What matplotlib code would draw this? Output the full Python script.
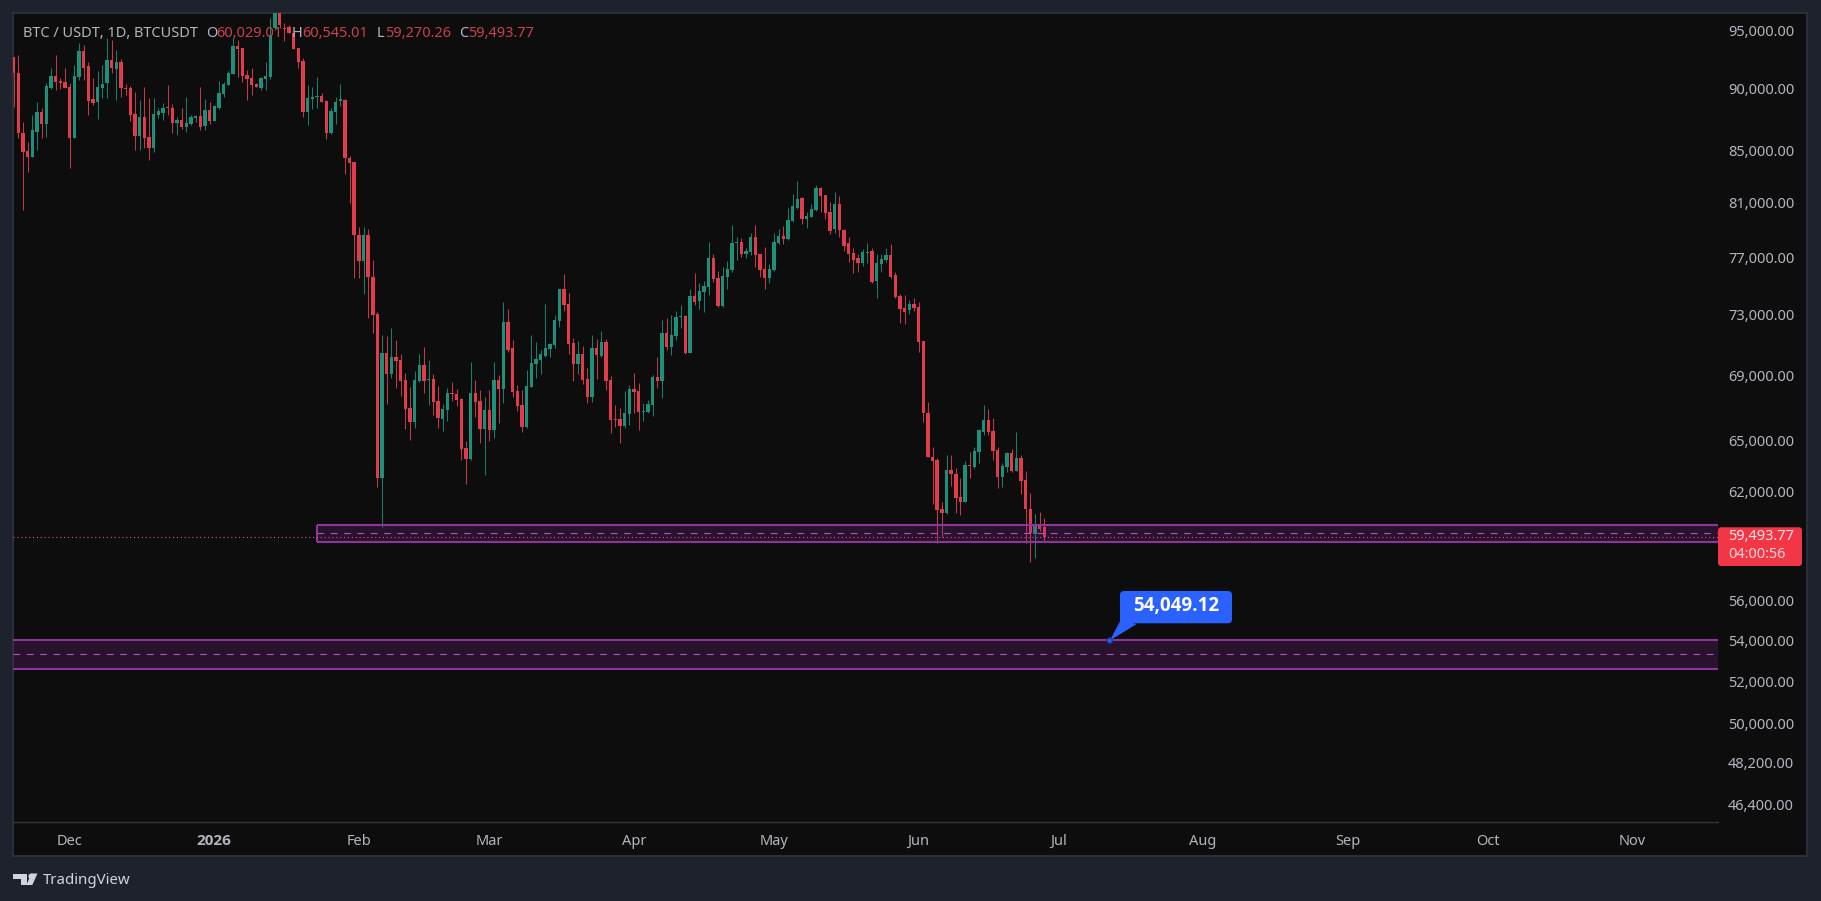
"""Daily BTC/USDT candlestick chart with two support zones, dark TradingView style."""
import matplotlib
matplotlib.use("Agg")
import matplotlib.pyplot as plt
import matplotlib.dates as mdates
import pandas as pd
from matplotlib.patches import Circle, FancyBboxPatch, Polygon, Rectangle
from matplotlib.ticker import NullLocator
from matplotlib.transforms import Affine2D, IdentityTransform

plt.rcParams["font.family"] = ["Noto Sans", "DejaVu Sans"]

WIDTH, HEIGHT = 1821, 901

first_day = "2025-11-19"

opens = [
    92810, 91390, 86450, 85075, 84600, 86585, 88200, 87200, 90130, 91165,
    90745, 90635, 90210, 86105, 91050, 93330, 92010, 89215, 89025, 90130,
    90550, 92525, 91760, 92380, 90130, 90130, 88010, 86240, 87795, 86130,
    85310, 87930, 88120, 88555, 88530, 87255, 87524, 86985, 87200, 87660,
    87850, 87040, 88338, 87470, 88475, 89660, 90410, 91335, 93740, 93540,
    91250, 90970, 90490, 90130, 90885, 91050, 95281, 96700, 95310, 95430,
    94840, 93540, 92440, 88145, 89215, 89380, 89490, 89105, 86450, 88200,
    89105, 89160, 84470, 84160, 78680, 76810, 78680, 75655, 73135, 62845,
    70560, 69180, 70255, 70081, 68795, 67012, 66150, 68730, 69755, 68815,
    68840, 67470, 66355, 66909, 67950, 67905, 67595, 64575, 63920, 67950,
    67470, 65740, 66909, 65682, 68795, 68225, 72610, 70840, 68120, 67220,
    65885, 68370, 69820, 70081, 70360, 70800, 71060, 72680, 74840, 73790,
    71170, 69820, 70470, 68840, 67700, 70840, 70360, 71235, 68795, 66335,
    66355, 65945, 66660, 68225, 68100, 66785, 66805, 67220, 69010, 68755,
    71835, 70955, 71655, 72905, 73020, 70560, 74355, 74015, 74610, 75000,
    77045, 75585, 73675, 75700, 76172, 78080, 78150, 77285, 77430, 78510,
    77285, 76220, 75585, 76172, 78080, 78610, 78365, 79710, 80650, 81400,
    79830, 80025, 80525, 82155, 81650, 80400, 79095, 80975, 79047, 78080,
    77360, 77000, 76640, 77360, 77525, 75425, 76595, 76881, 77240, 75820,
    74385, 73515, 73402, 73810, 73630, 71325, 66700, 64080, 63882, 61030,
    60805, 63293, 63060, 61710, 61465, 63585, 63490, 64375, 65580, 66293,
    65620, 64476, 62860, 63490, 64280, 63255, 63985, 62709, 61030, 59650,
    60095, 60029.01,
]
highs = [
    92810, 92955, 87390, 85785, 87930, 89025, 88475, 90550, 91815, 92955,
    90970, 91815, 90550, 92100, 93970, 93830, 92380, 90970, 91590, 92100,
    94400, 94255, 93386, 92580, 90465, 90325, 89850, 89160, 90210, 89300,
    89300, 88475, 88885, 90410, 88830, 87795, 88475, 89380, 87930, 87930,
    90210, 89215, 89025, 88750, 90770, 90690, 91615, 94400, 94255, 93540,
    91672, 91870, 90605, 91110, 92330, 96160, 97200, 97000, 95720, 95575,
    94985, 93540, 92670, 90410, 90270, 91050, 89770, 89160, 88475, 89435,
    90490, 89215, 84650, 84210, 79290, 79290, 79095, 76881, 73245, 71723,
    71655, 72165, 71391, 70450, 69220, 68330, 69390, 70470, 70910, 70081,
    69155, 68410, 67282, 68265, 68690, 68200, 67635, 65015, 69975, 68795,
    68160, 67740, 68160, 69975, 69110, 73925, 73447, 71391, 68475, 68160,
    69435, 71723, 71235, 70733, 73785, 71215, 73065, 74840, 75890, 74590,
    71500, 71325, 71015, 69540, 71723, 71435, 71990, 71435, 69055, 67220,
    67055, 68120, 68475, 69220, 68585, 67365, 67532, 69110, 70255, 72725,
    72840, 73065, 73335, 73745, 73065, 74815, 75935, 75285, 75425, 78200,
    77310, 76125, 76410, 76835, 79415, 78560, 78440, 77715, 78855, 79415,
    77285, 77785, 76595, 78805, 79095, 79340, 80650, 81700, 82740, 81525,
    80400, 80975, 82410, 82235, 81650, 81150, 81905, 81575, 79095, 78510,
    77715, 77310, 77645, 78080, 77765, 77310, 77310, 77765, 78030, 76055,
    74500, 74430, 74085, 74200, 73970, 71325, 67430, 64675, 63980, 61465,
    64180, 64180, 63430, 62805, 63825, 64340, 64675, 65725, 67220, 66950,
    66395, 64675, 63685, 64375, 64515, 65540, 64180, 63235, 61940, 60750,
    60900, 60545.01,
]
lows = [
    88610, 86055, 80525, 83435, 84600, 85126, 86055, 86185, 90045, 89990,
    90045, 90130, 83745, 86105, 90827, 90827, 87930, 88750, 87605, 89300,
    89300, 91445, 89160, 89380, 89575, 87470, 85126, 85126, 85260, 84341,
    84995, 87660, 87524, 87930, 86450, 86320, 86770, 86585, 87120, 87390,
    86717, 86717, 87200, 87470, 88395, 89380, 90410, 91335, 91110, 90690,
    89160, 89575, 90210, 89990, 89990, 90885, 95140, 95281, 94200, 94840,
    93475, 91815, 87795, 87120, 88395, 88475, 89025, 85975, 86395, 87200,
    88665, 83255, 81075, 75630, 75630, 74490, 72885, 71880, 62323, 60020,
    67282, 68900, 68265, 67780, 65740, 65076, 65780, 68690, 67950, 67220,
    66600, 65780, 65620, 66250, 67470, 67180, 63882, 62475, 63882, 66500,
    64915, 63000, 65035, 65175, 66130, 67325, 70625, 67740, 66870, 65580,
    65825, 68330, 68940, 69180, 70295, 70295, 70840, 72275, 73357, 70470,
    68755, 69180, 68545, 67365, 67430, 68840, 70295, 68160, 65520, 65885,
    64915, 65780, 65985, 66700, 65682, 66230, 66700, 66560, 68265, 67635,
    70733, 70405, 71391, 72165, 70470, 70515, 73745, 73470, 73290, 74430,
    75355, 73630, 73630, 74820, 76055, 76881, 77120, 77045, 77240, 76405,
    75655, 74840, 75285, 76125, 78005, 78030, 78318, 79660, 80600, 79465,
    79170, 79975, 80475, 80400, 79830, 78755, 78805, 78560, 77550, 76715,
    75940, 76055, 76455, 76640, 75240, 74200, 76055, 76760, 75630, 74200,
    72550, 72460, 73135, 73355, 70625, 66190, 64040, 61330, 59140, 59465,
    60770, 62360, 60805, 60710, 61425, 62805, 63390, 63685, 65380, 65380,
    63882, 62260, 62285, 63195, 63195, 63235, 61900, 59140, 58140, 58360,
    59835, 59270.26,
]
closes = [
    91390, 86450, 84995, 84600, 86717, 88200, 87200, 90325, 91165, 90690,
    90605, 90185, 86105, 91165, 93330, 91815, 89105, 88885, 90210, 90490,
    92525, 91815, 92380, 90130, 90045, 87930, 86240, 87795, 86055, 85260,
    87985, 88255, 88530, 88475, 87310, 87524, 86930, 87255, 87795, 87850,
    86985, 88338, 87470, 88665, 89770, 90490, 91390, 93740, 93445, 91165,
    90885, 90380, 90210, 90970, 91165, 94690, 96612, 95573, 95195, 94900,
    93475, 92380, 88145, 89300, 89435, 89490, 89025, 86450, 88280, 89025,
    89215, 84470, 84135, 78680, 76835, 78680, 75655, 73065, 62845, 70560,
    69180, 70255, 70040, 68730, 66970, 66190, 68795, 69755, 68755, 68860,
    67385, 66395, 66970, 67950, 67905, 67532, 64535, 63920, 67950, 67385,
    65740, 66909, 65682, 68795, 68225, 72565, 70733, 68055, 67160, 65885,
    68410, 69865, 70145, 70470, 70840, 71125, 72725, 74840, 73745, 71125,
    69820, 70470, 68795, 67700, 70840, 70405, 71235, 68755, 66293, 66293,
    65945, 66700, 68225, 68055, 66765, 66825, 67282, 69010, 68755, 71880,
    70910, 71723, 72950, 73000, 70560, 74355, 73970, 74705, 75050, 77045,
    75515, 73675, 75750, 76240, 78080, 78150, 77285, 77525, 78560, 77240,
    76172, 75585, 76220, 78150, 78610, 78365, 79782, 80825, 81350, 79830,
    80075, 80600, 82155, 81575, 80275, 79000, 80975, 79047, 77885, 77310,
    76881, 76640, 77430, 77430, 75355, 76690, 76950, 77240, 75700, 74270,
    73470, 73290, 73810, 73515, 71280, 66700, 64080, 63845, 60991, 60840,
    63293, 63060, 61650, 61465, 63585, 63545, 64415, 65682, 66293, 65580,
    64435, 62905, 63545, 64280, 63255, 63985, 62670, 61030, 59685, 60095,
    59910, 59493.77,
]

price_ticks = [95000, 90000, 85000, 81000, 77000, 73000, 69000, 65000, 62000,
               56000, 54000, 52000, 50000, 48200, 46400]
month_ticks = ["2025-12-01", "2026-01-01", "2026-02-01", "2026-03-01", "2026-04-01", "2026-05-01",
               "2026-06-01", "2026-07-01", "2026-08-01", "2026-09-01", "2026-10-01", "2026-11-01"]
month_labels = ["Dec", "2026", "Feb", "Mar", "Apr", "May", "Jun", "Jul", "Aug", "Sep", "Oct", "Nov"]

upper_zone = (60150, 59230)
upper_zone_start = "2026-01-23"
lower_zone = (54085, 52650)
marker_day = "2026-07-12"
marker_price = 54049.12
last_price = 59493.77
countdown = "04:00:56"

legend_parts = [
    ("BTC / USDT, 1D, BTCUSDT", 23, "grey"),
    ("O", 206, "grey"), ("60,029.01", 216, "red"),
    ("H", 292, "grey"), ("60,545.01", 302, "red"),
    ("L", 377, "grey"), ("59,270.26", 385, "red"),
    ("C", 459, "grey"), ("59,493.77", 468, "red"),
]

PAGE = "#1e222d"
PANEL = "#0d0d0d"
BORDER = "#2a2e39"
GREEN = "#1d8f7a"
RED = "#e03c4c"
GREEN_WICK = "#1b7d6b"
RED_WICK = "#c03a48"
TAG_RED = "#f23645"
TEXT = "#b2b5be"
ZONE = "#9c27b0"
ZONE_EDGE = "#8f3499"
BLUE = "#2962ff"
BOLD_FONT = "Open Sans"


def fy(y):
    """Flip a y distance measured from the top of the figure into display space."""
    return HEIGHT - y


def add_overlay(fig, patch, zorder=10):
    """Add a patch placed in display pixels on top of the axes."""
    patch.set_transform(IdentityTransform())
    patch.set_zorder(zorder)
    fig.add_artist(patch)


def label(fig, x, y, text, **kwargs):
    fig.text(x / WIDTH, fy(y) / HEIGHT, text, va="center", zorder=12, **kwargs)


def draw_candles(ax):
    days = pd.date_range(first_day, periods=len(closes), freq="D")
    df = pd.DataFrame({"open": opens, "high": highs, "low": lows, "close": closes}, index=days)
    rising = df["close"] >= df["open"]
    nums = mdates.date2num(df.index)
    ax.vlines(nums, df["low"], df["high"], colors=[GREEN_WICK if r else RED_WICK for r in rising],
              linewidth=0.75, zorder=2)
    body_low = df[["open", "close"]].min(axis=1)
    body_high = df[["open", "close"]].max(axis=1)
    ax.bar(nums, body_high - body_low, bottom=body_low, width=0.72,
           color=[GREEN if r else RED for r in rising], linewidth=0, zorder=2.5)
    return nums


def draw_zone(ax, start, end, top, bottom, closed_left=False):
    """Shaded band with a dashed midline, laid over the candles."""
    ax.add_patch(Rectangle((start, bottom), end - start, top - bottom, facecolor=ZONE, alpha=0.2,
                           edgecolor="none", zorder=3))
    ax.hlines([top, bottom], start, end, colors=ZONE_EDGE, linewidth=1.5, zorder=3.2)
    if closed_left:
        ax.vlines(start, bottom, top, colors=ZONE_EDGE, linewidth=1.5, zorder=3.2)
    mid = (top + bottom) / 2
    ax.hlines(mid, start, end, colors="#a65ab5", linewidth=0.8, linestyles=(0, (6, 6)), zorder=3.3)


fig = plt.figure(figsize=(WIDTH / 100, HEIGHT / 100), dpi=100, facecolor=PAGE)

# main window with its thin border
add_overlay(fig, Rectangle((13, fy(856)), 1794, 843, facecolor=PANEL, edgecolor=BORDER, linewidth=1.5), zorder=-5)

left, right, top, bottom = 13, 1718, 12.7, 822
ax = fig.add_axes([left / WIDTH, fy(bottom) / HEIGHT, (right - left) / WIDTH, (bottom - top) / HEIGHT])
ax.set_facecolor("none")
ax.set_yscale("log")
ax.set_ylim(45692, 96668)

nums = draw_candles(ax)
px_per_day = 4.664
xmin = nums[0] + (left - 13.7) / px_per_day
xmax = nums[0] + (right - 13.7) / px_per_day
ax.set_xlim(xmin, xmax)

draw_zone(ax, mdates.datestr2num(upper_zone_start), xmax, *upper_zone, closed_left=True)
draw_zone(ax, xmin, xmax, *lower_zone)
ax.hlines(last_price, xmin, xmax, colors="#e0557a", linewidth=0.8, linestyles=(0, (1, 2.5)), zorder=3.4)

# axes furniture
for name in ["top", "left", "right"]:
    ax.spines[name].set_visible(False)
ax.spines["bottom"].set_color("#33363f")
ax.spines["bottom"].set_linewidth(1.0)
ax.yaxis.tick_right()
ax.yaxis.set_minor_locator(NullLocator())
ax.set_yticks(price_ticks, [f"{p:,.2f}" for p in price_ticks])
ax.tick_params(axis="y", which="major", length=0, pad=7.2, labelsize=10.5, labelcolor=TEXT)
# nudge the price labels up a little so they sit level with their gridless ticks
for tick in ax.yaxis.get_major_ticks():
    tick.label2.set_verticalalignment("center_baseline")
    tick.label2.set_transform(tick.label2.get_transform() + Affine2D().translate(0, 1.3))
ax.set_xticks(mdates.datestr2num(month_ticks), month_labels)
ax.tick_params(axis="x", which="major", length=0, pad=8.5, labelsize=10.5, labelcolor=TEXT)
ax.get_xticklabels()[1].set_fontfamily(BOLD_FONT)
ax.get_xticklabels()[1].set_fontweight("bold")
ax.get_xticklabels()[1].set_fontsize(11)

# symbol line
for text, x, color in legend_parts:
    label(fig, x, 33.5, text, color=TEXT if color == "grey" else "#c8404f", fontsize=10.5)

# last price tag
add_overlay(fig, FancyBboxPatch((1718, fy(566)), 84, 38.7, boxstyle="round,pad=0,rounding_size=3",
                                facecolor=TAG_RED, edgecolor="none"))
label(fig, 1728, 536.7, f"{last_price:,.2f}", color="#f4e3e5", fontsize=10.5)
label(fig, 1728, 554.3, countdown, color="#f4d3d6", fontsize=10.5)

# price callout tied to the marker dot
dot_x, dot_y = ax.transData.transform((mdates.datestr2num(marker_day), marker_price))
add_overlay(fig, Polygon([(dot_x, dot_y), (dot_x + 11, fy(620)), (dot_x + 27, fy(624))],
                         closed=True, facecolor=BLUE, edgecolor="none"), zorder=9)
add_overlay(fig, FancyBboxPatch((1120, fy(623.3)), 112, 32.3, boxstyle="round,pad=0,rounding_size=4",
                                facecolor=BLUE, edgecolor="none"))
add_overlay(fig, Circle((dot_x, dot_y), 2.6, facecolor=BLUE, edgecolor="#1b3a8f", linewidth=1))
label(fig, 1176, 606.5, f"{marker_price:,.2f}", color="white", fontsize=13.5, fontweight="bold",
      ha="center", family=BOLD_FONT)

# footer logo and wordmark
LOGO = "#d1d4dc"
add_overlay(fig, Polygon([(13.3, fy(873.5)), (27.3, fy(873.5)), (27.3, fy(885)), (20.7, fy(885)),
                          (20.7, fy(879)), (13.3, fy(879))], closed=True, facecolor=LOGO, edgecolor="none"))
add_overlay(fig, Circle((31.2, fy(876.3)), 2.8, facecolor=LOGO, edgecolor="none"))
add_overlay(fig, Polygon([(37.5, fy(873.5)), (32.3, fy(885)), (26.3, fy(885)), (31.5, fy(873.5))],
                         closed=True, facecolor=LOGO, edgecolor="none"))
label(fig, 42.5, 880.5, "TradingView", color=LOGO, fontsize=10.8)

fig.savefig("out.png", dpi=100, facecolor=PAGE)
